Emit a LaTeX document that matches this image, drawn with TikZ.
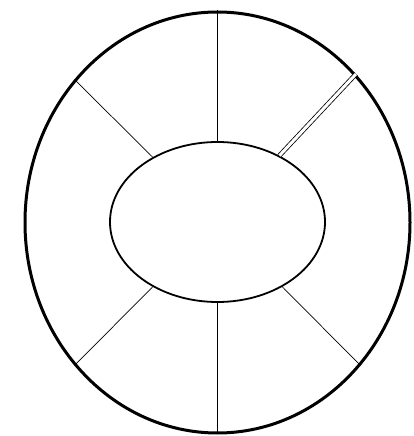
\documentclass[tikz,border=0pt]{standalone}
\usetikzlibrary{shapes.geometric}
\begin{document}
\begin{tikzpicture}[x=1pt,y=1pt]
\useasboundingbox (0,0) rectangle (414,436);
\node[draw,ellipse,line width=3pt,inner sep=0pt,minimum width=385pt,minimum height=421pt] (rim) at (217.5,213.5) {};
\node[draw,ellipse,line width=1.8pt,inner sep=0pt,minimum width=215pt,minimum height=160pt] (hub) at (217.5,214) {};
\draw[line width=1pt] (hub.90) -- (rim.90);
\draw[line width=1pt] (hub.270) -- (rim.270);
\draw[line width=0.7pt] (hub.135) -- (rim.135);
\draw[line width=0.7pt] (hub.225) -- (rim.225);
\draw[line width=0.7pt] (hub.315) -- (rim.315);
\draw[line width=0.8pt,double,double distance=3pt] (hub.47) -- (rim.47.5);
\end{tikzpicture}
\end{document}
